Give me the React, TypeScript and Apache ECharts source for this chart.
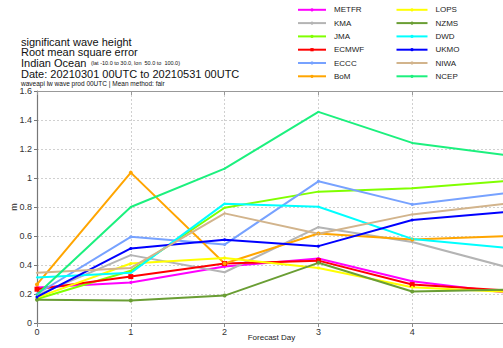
import React, { useEffect, useRef } from "react";
import * as echarts from "echarts";

const days = [0, 1, 2, 3, 4, 5];
const xTickLabels = ["0", "1", "2", "3", "4", ""];
const yTicks = [0, 0.2, 0.4, 0.6, 0.8, 1, 1.2, 1.4, 1.6];

const METFR = [0.245, 0.28, 0.39, 0.445, 0.288, 0.21];
const KMA = [0.19, 0.468, 0.35, 0.661, 0.558, 0.387];
const JMA = [0.165, 0.36, 0.795, 0.906, 0.929, 0.979];
const ECMWF = [0.233, 0.32, 0.41, 0.43, 0.265, 0.225];
const ECCC = [0.2, 0.594, 0.541, 0.977, 0.818, 0.896];
const BoM = [0.266, 1.037, 0.41, 0.617, 0.576, 0.599];
const LOPS = [0.175, 0.41, 0.449, 0.38, 0.247, 0.215];
const NZMS = [0.16, 0.155, 0.189, 0.415, 0.217, 0.23];
const DWD = [0.314, 0.346, 0.823, 0.802, 0.58, 0.518];
const UKMO = [0.18, 0.514, 0.574, 0.53, 0.71, 0.765];
const NIWA = [0.346, 0.38, 0.756, 0.615, 0.749, 0.823];
const NCEP = [0.196, 0.8, 1.065, 1.456, 1.242, 1.157];

const col1 = ["METFR", "KMA", "JMA", "ECMWF", "ECCC", "BoM"];
const col2 = ["LOPS", "NZMS", "DWD", "UKMO", "NIWA", "NCEP"];

const models: { name: string; values: number[]; color: string; symbol: string; size: number }[] = [
  { name: "METFR", values: METFR, color: "#ff00ff", symbol: "circle", size: 3 },
  { name: "KMA", values: KMA, color: "#b4b4b4", symbol: "circle", size: 2 },
  { name: "JMA", values: JMA, color: "#80ff00", symbol: "circle", size: 2 },
  { name: "ECMWF", values: ECMWF, color: "#ff0000", symbol: "rect", size: 5 },
  { name: "ECCC", values: ECCC, color: "#77a2ff", symbol: "circle", size: 3 },
  { name: "BoM", values: BoM, color: "#ffa500", symbol: "circle", size: 4 },
  { name: "LOPS", values: LOPS, color: "#ffff00", symbol: "circle", size: 3 },
  { name: "NZMS", values: NZMS, color: "#6a9e34", symbol: "circle", size: 4 },
  { name: "DWD", values: DWD, color: "#00ffff", symbol: "circle", size: 2 },
  { name: "UKMO", values: UKMO, color: "#0000ff", symbol: "circle", size: 3 },
  { name: "NIWA", values: NIWA, color: "#d2b48c", symbol: "circle", size: 2 },
  { name: "NCEP", values: NCEP, color: "#1cf07e", symbol: "circle", size: 2 },
];

const FONT = "Liberation Sans, Arial, sans-serif";

export default function App() {
  const ref = useRef<HTMLDivElement>(null);
  useEffect(() => {
    if (!ref.current) return;
    const chart = echarts.init(ref.current, undefined, { renderer: "svg" });
    const legendBase = {
      orient: "vertical" as const,
      top: 5.8,
      padding: 0,
      itemHeight: 4,
      itemGap: 5.3,
      textStyle: { fontSize: 8, lineHeight: 8, fontFamily: FONT, color: "#222", padding: [0, 0, 0, 3] },
    };
    chart.setOption({
      animation: false,
      backgroundColor: "#fff",
      textStyle: { fontFamily: FONT },
      grid: { left: 37, right: -3, top: 91, bottom: 25, containLabel: false, outerBoundsMode: "none" },
      legend: [
        { ...legendBase, left: 297, itemWidth: 28, data: col1 },
        { ...legendBase, left: 395.5, itemWidth: 31, data: col2 },
      ],
      graphic: [
        { type: "text", left: 21, top: 36, style: { text: "significant wave height", fontSize: 11, fontFamily: FONT, fill: "#111" } },
        { type: "text", left: 21, top: 46.5, style: { text: "Root mean square error", fontSize: 11, fontFamily: FONT, fill: "#111" } },
        { type: "text", left: 21, top: 57, style: { text: "Indian Ocean", fontSize: 11, fontFamily: FONT, fill: "#111" } },
        { type: "text", left: 91, top: 60, style: { text: "(lat -10.0 to 30.0, lon  50.0 to  100.0)", fontSize: 5.5, fontFamily: FONT, fill: "#111" } },
        { type: "text", left: 21, top: 68, style: { text: "Date: 20210301 00UTC to 20210531 00UTC", fontSize: 11, fontFamily: FONT, fill: "#111" } },
        { type: "text", left: 21, top: 80, style: { text: "waveapi lw wave prod 00UTC | Mean method: fair", fontSize: 6.5, fontFamily: FONT, fill: "#111" } },
      ],
      xAxis: [
        {
          type: "value",
          min: 0,
          max: 5,
          interval: 1,
          name: "Forecast Day",
          nameLocation: "middle",
          nameGap: 10,
          nameMoveOverlap: false,
          nameTextStyle: { fontSize: 8, color: "#222" },
          axisLine: { show: true, lineStyle: { color: "#888", width: 1 } },
          axisTick: { show: true, inside: false, length: 4, lineStyle: { color: "#888" } },
          axisLabel: {
            fontSize: 9,
            color: "#333",
            margin: 4,
            formatter: (v: number) => {
              const i = days.indexOf(Math.round(v));
              return i < 0 ? "" : xTickLabels[i];
            },
          },
          splitLine: { show: true, lineStyle: { color: "#d0d0d0", type: [2, 2], width: 1 } },
        },
        {
          type: "value",
          position: "top",
          min: 0,
          max: 5,
          interval: 1,
          axisLine: { show: true, onZero: false, lineStyle: { color: "#999", width: 1 } },
          axisTick: { show: true, inside: true, length: 4, lineStyle: { color: "#999" } },
          axisLabel: { show: false },
          splitLine: { show: false },
        },
      ],
      yAxis: {
        type: "value",
        min: 0,
        max: 1.6,
        interval: 0.2,
        name: "m",
        nameLocation: "middle",
        nameGap: 19,
        nameMoveOverlap: false,
        nameTextStyle: { fontSize: 9, color: "#222" },
        axisLine: { show: true, lineStyle: { color: "#777", width: 1.2 } },
        axisTick: { show: true, inside: false, length: 3, lineStyle: { color: "#777" } },
        axisLabel: {
          fontSize: 9,
          color: "#333",
          margin: 5,
          formatter: (v: number) => {
            const t = yTicks.find((k) => Math.abs(k - v) < 1e-6);
            return t === undefined ? "" : String(t);
          },
        },
        splitLine: { show: true, lineStyle: { color: "#d0d0d0", type: [2, 2], width: 1 } },
      },
      series: models.map((m) => ({
        name: m.name,
        type: "line",
        xAxisIndex: 0,
        data: days.map((d, i) => [d, m.values[i]]),
        symbol: m.symbol,
        symbolSize: m.size,
        showSymbol: true,
        lineStyle: { color: m.color, width: 2 },
        itemStyle: { color: m.color },
        emphasis: { disabled: true },
        clip: false,
      })),
    });
    return () => chart.dispose();
  }, []);
  return (
    <div
      ref={ref}
      style={{ position: "absolute", left: 0, top: 0, width: 503, height: 348 }}
    />
  );
}
